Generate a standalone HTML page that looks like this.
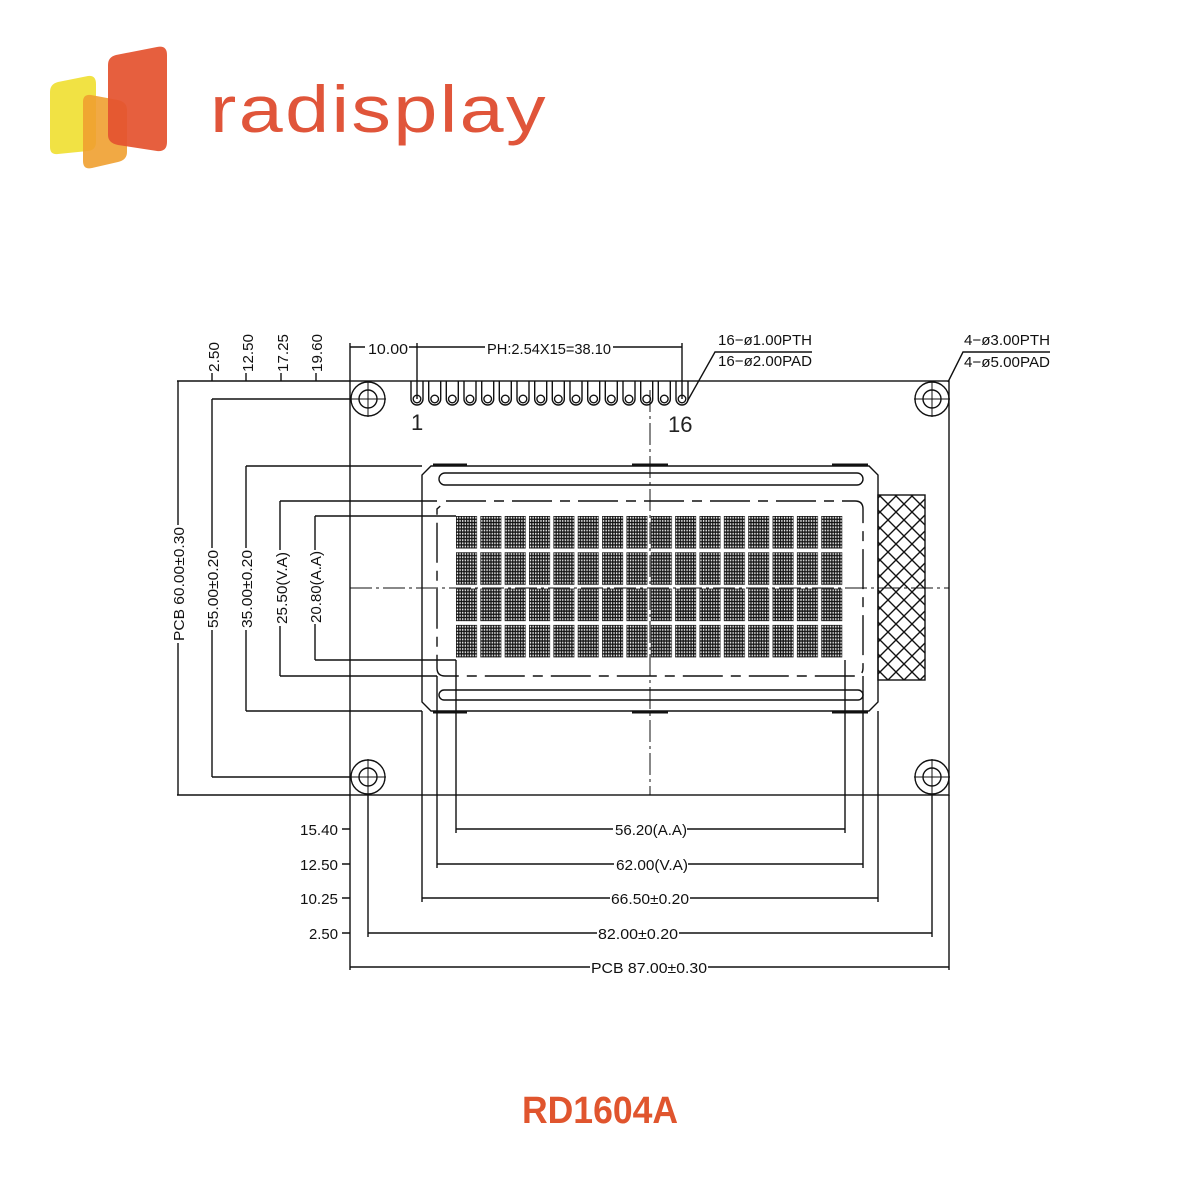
<!DOCTYPE html>
<html><head><meta charset="utf-8"><style>
html,body{margin:0;padding:0;background:#fff;}
svg{display:block;}
text{font-family:"Liberation Sans",sans-serif;}
</style></head><body>
<svg width="1200" height="1200" viewBox="0 0 1200 1200" xmlns="http://www.w3.org/2000/svg">
<defs>
<pattern id="dots" x="0" y="0" width="2.62" height="3.2" patternUnits="userSpaceOnUse">
<rect x="0" y="0" width="2.62" height="3.2" fill="#111"/>
<rect x="0.8" y="0.8" width="1.3" height="1.8" fill="#fff"/>
</pattern>
<pattern id="chars" x="456" y="516" width="24.35" height="36.3" patternUnits="userSpaceOnUse">
<rect x="0" y="0" width="21" height="32.5" fill="url(#dots)"/>
</pattern>
<pattern id="hatch" x="0" y="0" width="16" height="16" patternUnits="userSpaceOnUse">
<path d="M0 0L16 16M16 0L0 16" stroke="#111" stroke-width="1.4"/>
</pattern>
</defs>

<!-- logo -->
<path d="M50 92 Q50 84 58 82 L88 76 Q96 75 96 84 L96 142 Q96 150 88 151 L58 154 Q50 155 50 147Z" fill="#f0e03a" opacity="0.95"/>
<path d="M83 102 Q83 94 91 95 L118 100 Q127 102 127 110 L127 152 Q127 160 118 162 L92 168 Q83 170 83 161Z" fill="#f0a030" opacity="0.9"/>
<path d="M108 65 Q108 57 116 55 L157 47 Q167 45 167 55 L167 142 Q167 152 157 151 L118 145 Q108 143 108 135Z" fill="#e4532f" opacity="0.93"/>
<text x="210" y="132" font-size="66" fill="#e0553a" textLength="338" lengthAdjust="spacingAndGlyphs" style="letter-spacing:2px">radisplay</text>

<g stroke="#111" fill="none" stroke-width="1.4">
<rect x="350" y="381" width="599" height="414"/>
<g>
<circle cx="368" cy="399" r="17"/><circle cx="368" cy="399" r="9"/>
<circle cx="932" cy="399" r="17"/><circle cx="932" cy="399" r="9"/>
<circle cx="368" cy="777" r="17"/><circle cx="368" cy="777" r="9"/>
<circle cx="932" cy="777" r="17"/><circle cx="932" cy="777" r="9"/>
<path d="M350 399H386M368 381V417M914 399H950M932 381V417M350 777H386M368 759V795M914 777H950M932 759V795" stroke-width="1"/>
</g>
<g id="pins">
<path d="M411 381V399a6 6 0 0 0 12 0V381M428.7 381V399a6 6 0 0 0 12 0V381M446.3 381V399a6 6 0 0 0 12 0V381M464 381V399a6 6 0 0 0 12 0V381M481.7 381V399a6 6 0 0 0 12 0V381M499.3 381V399a6 6 0 0 0 12 0V381M517 381V399a6 6 0 0 0 12 0V381M534.7 381V399a6 6 0 0 0 12 0V381M552.3 381V399a6 6 0 0 0 12 0V381M570 381V399a6 6 0 0 0 12 0V381M587.7 381V399a6 6 0 0 0 12 0V381M605.3 381V399a6 6 0 0 0 12 0V381M623 381V399a6 6 0 0 0 12 0V381M640.7 381V399a6 6 0 0 0 12 0V381M658.3 381V399a6 6 0 0 0 12 0V381M676 381V399a6 6 0 0 0 12 0V381"/>
<circle cx="417" cy="399" r="3.8"/><circle cx="434.7" cy="399" r="3.8"/><circle cx="452.3" cy="399" r="3.8"/><circle cx="470" cy="399" r="3.8"/><circle cx="487.7" cy="399" r="3.8"/><circle cx="505.3" cy="399" r="3.8"/><circle cx="523" cy="399" r="3.8"/><circle cx="540.7" cy="399" r="3.8"/><circle cx="558.3" cy="399" r="3.8"/><circle cx="576" cy="399" r="3.8"/><circle cx="593.7" cy="399" r="3.8"/><circle cx="611.3" cy="399" r="3.8"/><circle cx="629" cy="399" r="3.8"/><circle cx="646.7" cy="399" r="3.8"/><circle cx="664.3" cy="399" r="3.8"/><circle cx="682" cy="399" r="3.8"/>
</g>
<path d="M431 466H869L878 475V702L869 711H431L422 702V475Z"/>
<path d="M433 465H467M632 465H668M832 465H868M433 712H467M632 712H668M832 712H868" stroke-width="3"/>
<rect x="439" y="473" width="424" height="12" rx="6"/>
<rect x="439" y="690" width="424" height="10" rx="5"/>
<path d="M446 501H855Q863 501 863 509V668Q863 676 855 676H445Q437 676 437 668V509Z" stroke-dasharray="40 8 10 8"/>
<rect x="878" y="495" width="47" height="185" fill="url(#hatch)"/>
<path d="M650 390V795M350 588H949" stroke-width="1" stroke-dasharray="22 4 3 4"/>
<path d="M177 381H350M212 399H350M246 466H422M280 501H437M315 516H456M212 777H350M246 711H422M280 676H437M315 660H456M177 795H350"/>
<path d="M178 381V795M212 399V777M246 466V711M280 501V676M315 516V660"/>
<path d="M212 373V381M246 373V381M281 373V381M316 373V381"/>
<path d="M350 343V381M417 343V399M682 343V399M350 347H682"/>
<path d="M688 400L715 352H812M948 382L963 352H1050"/>
<path d="M350 795V970M949 795V970M368 795V937M422 711V902M437 676V868M456 660V833M845 660V833M863 676V868M878 711V902M932 795V937"/>
<path d="M456 829H845M437 864H863M422 898H878M368 933H932M350 967H949"/>
<path d="M342 829H350M342 864H350M342 898H350M342 933H350"/>
</g>
<g fill="#fff">
<rect x="365" y="340" width="44" height="14"/><rect x="485" y="340" width="128" height="14"/>
<rect x="613" y="822" width="74" height="14"/><rect x="614" y="857" width="74" height="14"/>
<rect x="610" y="891" width="80" height="14"/><rect x="597" y="926" width="82" height="14"/>
<rect x="590" y="960" width="118" height="14"/>
<rect x="171" y="525" width="14" height="118"/><rect x="205" y="548" width="14" height="82"/>
<rect x="239" y="548" width="14" height="82"/><rect x="273" y="550" width="14" height="76"/><rect x="308" y="550" width="14" height="74"/>
</g>
<rect x="456" y="516" width="389" height="145" fill="url(#chars)"/>

<g font-size="15" fill="#111">
<text x="368" y="354" textLength="40" lengthAdjust="spacingAndGlyphs">10.00</text>
<text x="487" y="354" textLength="124" lengthAdjust="spacingAndGlyphs">PH:2.54X15=38.10</text>
<text x="718" y="345" textLength="94" lengthAdjust="spacingAndGlyphs">16−ø1.00PTH</text>
<text x="718" y="366" textLength="94" lengthAdjust="spacingAndGlyphs">16−ø2.00PAD</text>
<text x="964" y="345" textLength="86" lengthAdjust="spacingAndGlyphs">4−ø3.00PTH</text>
<text x="964" y="367" textLength="86" lengthAdjust="spacingAndGlyphs">4−ø5.00PAD</text>
<text x="300" y="835" textLength="38" lengthAdjust="spacingAndGlyphs">15.40</text>
<text x="300" y="870" textLength="38" lengthAdjust="spacingAndGlyphs">12.50</text>
<text x="300" y="904" textLength="38" lengthAdjust="spacingAndGlyphs">10.25</text>
<text x="309" y="939" textLength="29" lengthAdjust="spacingAndGlyphs">2.50</text>
<text x="615" y="835" textLength="72" lengthAdjust="spacingAndGlyphs">56.20(A.A)</text>
<text x="616" y="870" textLength="72" lengthAdjust="spacingAndGlyphs">62.00(V.A)</text>
<text x="611" y="904" textLength="78" lengthAdjust="spacingAndGlyphs">66.50±0.20</text>
<text x="598" y="939" textLength="80" lengthAdjust="spacingAndGlyphs">82.00±0.20</text>
<text x="591" y="973" textLength="116" lengthAdjust="spacingAndGlyphs">PCB  87.00±0.30</text>
<text transform="translate(219,372) rotate(-90)" textLength="30" lengthAdjust="spacingAndGlyphs">2.50</text>
<text transform="translate(253,372) rotate(-90)" textLength="38" lengthAdjust="spacingAndGlyphs">12.50</text>
<text transform="translate(288,372) rotate(-90)" textLength="38" lengthAdjust="spacingAndGlyphs">17.25</text>
<text transform="translate(322,372) rotate(-90)" textLength="38" lengthAdjust="spacingAndGlyphs">19.60</text>
<text transform="translate(184,641) rotate(-90)" textLength="114" lengthAdjust="spacingAndGlyphs">PCB  60.00±0.30</text>
<text transform="translate(218,628) rotate(-90)" textLength="78" lengthAdjust="spacingAndGlyphs">55.00±0.20</text>
<text transform="translate(252,628) rotate(-90)" textLength="78" lengthAdjust="spacingAndGlyphs">35.00±0.20</text>
<text transform="translate(287,624) rotate(-90)" textLength="72" lengthAdjust="spacingAndGlyphs">25.50(V.A)</text>
<text transform="translate(321,623) rotate(-90)" textLength="72" lengthAdjust="spacingAndGlyphs">20.80(A.A)</text>
</g>
<g font-family="Liberation Serif, serif" font-size="22" fill="#222">
<text x="411" y="430">1</text>
<text x="668" y="432">16</text>
</g>
<text x="600" y="1123" text-anchor="middle" font-size="38" font-weight="bold" fill="#e0552e" textLength="156" lengthAdjust="spacingAndGlyphs">RD1604A</text>
</svg>
</body></html>
